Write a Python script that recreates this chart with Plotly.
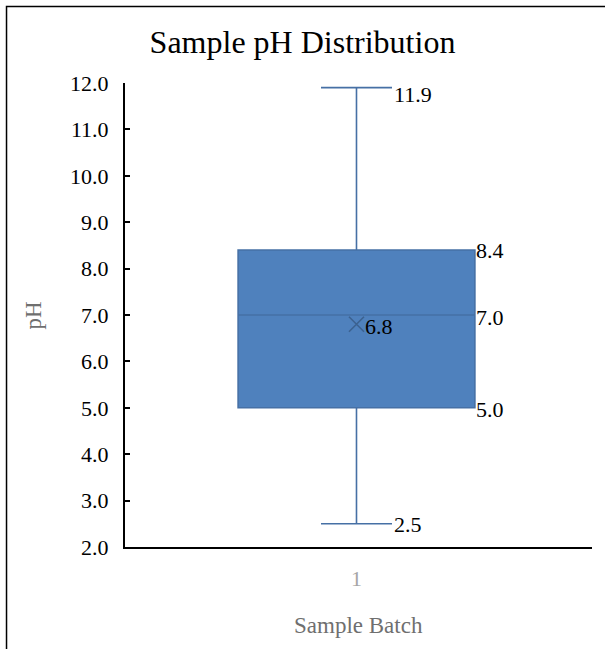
import plotly.graph_objects as go

# Summary statistics for the sample batch
batch_labels = ["1"]
q_min = [2.5]
q1 = [5.0]
median = [7.0]
q3 = [8.4]
q_max = [11.9]
mean = [6.8]

y_ticks = [2.0, 3.0, 4.0, 5.0, 6.0, 7.0, 8.0, 9.0, 10.0, 11.0, 12.0]

BOX_WIDTH = 0.507
WHISKER_FRAC = 0.3
SERIF = "Liberation Serif"
FILL = "#4f81bd"
EDGE = "#4670a5"
MEAN_COLOR = "#3c6290"

xs = list(range(len(batch_labels)))

fig = go.Figure()
fig.add_trace(go.Box(
    x=xs, q1=q1, median=median, q3=q3,
    lowerfence=q_min, upperfence=q_max,
    width=BOX_WIDTH, whiskerwidth=WHISKER_FRAC,
    fillcolor=FILL, line=dict(color=EDGE, width=1.6),
    boxpoints=False, hoverinfo="skip", showlegend=False,
))
fig.add_trace(go.Scatter(
    x=xs, y=mean, mode="markers",
    marker=dict(symbol="x-thin-open", size=15, color=MEAN_COLOR,
                line=dict(color=MEAN_COLOR, width=1.6)),
    hoverinfo="skip", showlegend=False,
))

# Value labels
lab_font = dict(family=SERIF, size=22, color="#000000")
for i, x in enumerate(xs):
    cap = BOX_WIDTH / 2 * WHISKER_FRAC
    half = BOX_WIDTH / 2
    items = [
        (x + cap, q_max[i], 0, -7),
        (x + half, q3[i], -1, 0),
        (x + half, median[i], -1, -2),
        (x + half, q1[i], -1, -2),
        (x + cap, q_min[i], 0, -1),
        (x, mean[i], 7, -2),
    ]
    for ax_x, val, dx, dy in items:
        fig.add_annotation(x=ax_x, y=val, xref="x", yref="y",
                           text=f"{val:.1f}", showarrow=False,
                           xanchor="left", yanchor="middle",
                           xshift=dx, yshift=dy, font=lab_font)

# Axis titles
fig.add_annotation(text="Sample Batch", xref="paper", yref="paper",
                   x=0.5, y=-0.17, xanchor="center", yanchor="middle",
                   showarrow=False,
                   font=dict(family=SERIF, size=23, color="#6f6f6f"))
fig.add_annotation(text="pH", xref="paper", yref="paper",
                   x=-0.196, y=0.5, xanchor="center", yanchor="middle",
                   textangle=-90, showarrow=False,
                   font=dict(family=SERIF, size=23, color="#6f6f6f"))

# Chart frame
fig.add_shape(type="rect", xref="paper", yref="paper",
              x0=-0.2537, x1=1.2, y0=-0.5, y1=1.1647,
              line=dict(color="#000000", width=1.5), fillcolor="rgba(0,0,0,0)",
              layer="below")

fig.update_layout(
    width=605, height=649,
    margin=dict(l=125, r=13, t=83, b=102),
    paper_bgcolor="white", plot_bgcolor="white",
    title=dict(text="Sample pH Distribution", x=0.5, xanchor="center",
               y=1 - 42 / 649, yanchor="middle", yref="container",
               font=dict(family=SERIF, size=32, color="#000000")),
    xaxis=dict(range=[-0.4957, len(xs) - 0.4957], tickvals=xs,
               ticktext=batch_labels,
               showline=True, linecolor="#000000", linewidth=2,
               showgrid=False, zeroline=False, ticks="",
               ticklabelstandoff=11,
               tickfont=dict(family=SERIF, size=22, color="#a6a6a6")),
    yaxis=dict(range=[2, 12], tickvals=y_ticks,
               ticktext=[f"{v:.1f}" for v in y_ticks],
               showline=True, linecolor="#000000", linewidth=2,
               showgrid=False, zeroline=False,
               ticks="inside", ticklen=5, tickwidth=1.5, tickcolor="#000000",
               ticklabelstandoff=10,
               tickfont=dict(family=SERIF, size=22, color="#000000")),
)

fig.write_html("out.html")
